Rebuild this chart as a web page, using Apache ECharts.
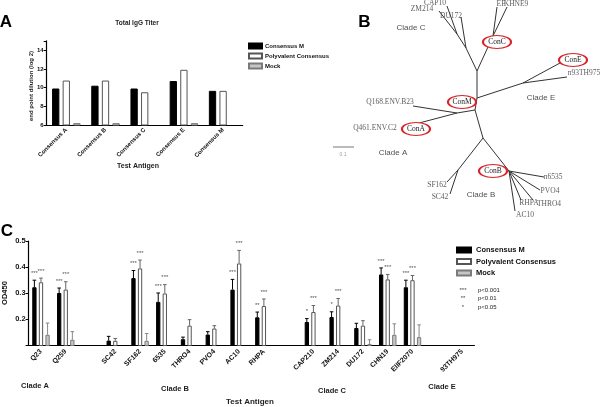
<!DOCTYPE html>
<html><head><meta charset="utf-8">
<script src="https://cdn.jsdelivr.net/npm/echarts@6/dist/echarts.min.js"></script>
<style>html,body{margin:0;padding:0;background:#fff}#c{width:600px;height:407px}</style>
</head><body><div id="c"></div>
<script>
// ---------- Panel A data ----------
const titerCats = ['Consensus A','Consensus B','Consensus C','Consensus E','Consensus M'];
const titerConsM = [9.9, 10.2, 9.9, 10.7, 9.65];
const titerPoly = [10.75, 10.75, 9.5, 11.9, 9.65];
const titerMock = [6.2, 6.2, null, 6.2, null];

// ---------- Panel B data (tree, picture units) ----------
const treeEdges = [
  [477,71,477,98],[477,98,475,110],[475,110,483,138],
  [477,71,466,48],[466,48,457,34],[457,34,447,6],[457,34,439,11],[466,48,461,17],
  [477,71,493,36],[493,36,497,7],[493,36,507,7],
  [477,98,523,83],[523,83,560,63],[523,83,567,77],
  [475,110,457,113],[457,113,413,106],[457,113,404,127],
  [483,138,458,170],[458,170,447,182],[458,170,450,194],
  [483,138,509,171],[509,171,544,177],[509,171,540,190],[509,171,533,200],[509,171,521,200],[509,171,515,211]
];
const treeLeaves = [
  [435,3,'CAP10'],[422,9,'ZM214'],[451,16,'DU172'],[501,4,'EF'],[516,4,'KHNE9'],
  [584,73,'n93TH975'],[390,102,'Q168.ENV.B23'],[375,128,'Q461.ENV.C2'],
  [437,185,'SF162'],[440,197,'SC42'],[553,177,'n6535'],[550,191,'PVO4'],
  [529,203,'RHPA'],[549,204,'THRO4'],[525,215,'AC10']
];
const treeConsensus = [[497,42,'ConC'],[573,60,'ConE'],[462,102,'ConM'],[416,129,'ConA'],[493,171,'ConB']];
const treeClades = [[411,28,'Clade C'],[541,98,'Clade E'],[393,153,'Clade A'],[481,195,'Clade B']];
const scaleBar = [[333,147,354,147]];
const scaleLabel = [[343,155,'0.1']];

// ---------- Panel C data ----------
const odCats = ['Q23','Q259','','SC42','SF162','6535','THRO4','PVO4','AC10','RHPA','','CAP210','ZM214','DU172','CHN19','EIIF2070','','93TH975'];
const odConsM = [0.323,0.301,null,0.119,0.358,0.267,0.124,0.142,0.314,0.208,null,0.190,0.209,0.167,0.372,0.323,null,null];
const odConsMErr = [0.027,0.019,null,0.016,0.029,0.034,0.008,0.011,0.039,0.020,null,0.013,0.020,0.018,0.025,0.027,null,null];
const odPoly = [0.342,0.314,null,0.118,0.395,0.299,0.176,0.165,0.414,0.251,null,0.228,0.253,0.176,0.353,0.350,null,null];
const odPolyErr = [0.016,0.030,null,0.009,0.032,0.034,0.023,0.011,0.050,0.027,null,0.025,0.027,0.019,0.019,0.018,null,null];
const odMock = [0.141,0.122,null,null,0.118,null,null,null,null,null,null,null,null,0.106,0.141,0.132,null,null];
const odMockErr = [0.045,0.031,null,null,0.028,null,null,null,null,null,null,null,null,0.016,0.042,0.047,null,null];
const starsConsM = ['***','***','','','***','***','','','***','**','','*','*','','***','***','',''];
const starsPoly = ['***','***','','','***','***','','','***','***','','***','***','','***','***','',''];
const cladeLabels = [[35,386,'Clade A'],[175,389,'Clade B'],[332,391,'Clade C'],[442,387,'Clade E']];
const pLegend = [['***','p<0.001'],['**','p<0.01'],['*','p<0.05']];

const SANS = 'Liberation Sans, Arial, sans-serif';
const SERIF = 'Liberation Serif, Times New Roman, serif';
const names = ['Consensus M','Polyvalent Consensus','Mock'];
const styles = [
  {color:'#000', borderColor:'#000', borderWidth:1},
  {color:'#fff', borderColor:'#555', borderWidth:1},
  {color:'#c6c6c6', borderColor:'#7a7a7a', borderWidth:1}
];
const errColors = ['#000','#666','#888'];

const chart = echarts.init(document.getElementById('c'), null, {renderer:'canvas'});

function txt(x, y, text, font, fill, align, rot) {
  return {type:'text', x:x, y:y, rotation: rot||0,
    style:{text:text, font:font, fill:fill||'#111', align:align||'center', verticalAlign:'middle',
      textAlign:align||'center', textVerticalAlign:'middle'}};
}

const graphics = [
  txt(6,22,'A','bold 17px '+SANS,'#000'),
  txt(364.5,22,'B','bold 17px '+SANS,'#000'),
  txt(7,231,'C','bold 17px '+SANS,'#000'),
  txt(137,23,'Total IgG Titer','bold 6.5px '+SANS,'#222'),
  txt(138,166,'Test Antigen','bold 7px '+SANS,'#222'),
  txt(31,86,'end point dilution (log 2)','bold 6px '+SANS,'#222','center',Math.PI/2),
  txt(5,293,'OD450','bold 7.5px '+SANS,'#111','center',Math.PI/2),
  txt(250,402,'Test Antigen','bold 8px '+SANS,'#222')
];
cladeLabels.forEach(c => graphics.push(txt(c[0],c[1],c[2],'bold 7.5px '+SANS,'#222')));
pLegend.forEach((p,i) => {
  graphics.push(txt(463,290+i*8.5,p[0],'6px '+SANS,'#444'));
  graphics.push(txt(478,290+i*8.5,p[1],'6px '+SANS,'#222','left'));
});

function errorSeries(k, means, errs, stars) {
  const data = means.map((m,i) => m==null ? [i, null, null] : [i, m, errs[i]]);
  return {
    type:'custom', xAxisIndex:2, yAxisIndex:2, z:5,
    encode:{x:0, y:1},
    data:data,
    renderItem:(params, api) => {
      const v = api.value(1);
      if (v == null || isNaN(v)) return null;
      const i = api.value(0);
      const off = (k-1)*6.6;
      const b = api.coord([i, v]);
      const t = api.coord([i, v + api.value(2)]);
      const x = b[0] + off;
      const ch = [
        {type:'line', shape:{x1:x,y1:b[1],x2:x,y2:t[1]}, style:{stroke:errColors[k], lineWidth:1}},
        {type:'line', shape:{x1:x-1.8,y1:t[1],x2:x+1.8,y2:t[1]}, style:{stroke:errColors[k], lineWidth:1}}
      ];
      const s = stars ? stars[params.dataIndex] : '';
      if (s) ch.push({type:'text', style:{text:s, x:x, y:t[1]-4, font:'6px '+SANS, fill:'#555',
        align:'center', verticalAlign:'bottom', textAlign:'center', textVerticalAlign:'bottom'}});
      return {type:'group', children:ch};
    }
  };
}

const option = {
  animation:false,
  backgroundColor:'#fff',
  textStyle:{fontFamily:SANS},
  graphic:graphics,
  legend:[
    {data:names, left:248, top:42.5, orient:'vertical', icon:'rect', itemWidth:13, itemHeight:5, itemGap:3,
     selectedMode:false, padding:0, textStyle:{fontSize:6, fontWeight:'bold', color:'#111', fontFamily:SANS, padding:[0,0,0,-2]}},
    {data:names, left:456, top:246, orient:'vertical', icon:'rect', itemWidth:14, itemHeight:5, itemGap:3.5,
     selectedMode:false, padding:0, textStyle:{fontSize:7.5, fontWeight:'bold', color:'#111', fontFamily:SANS}}
  ],
  grid:[
    {left:46.7, top:40.8, width:196, height:84.2},
    {left:280, top:0, width:320, height:220},
    {left:28.6, top:241, width:445.8, height:104.5}
  ],
  xAxis:[
    {type:'category', gridIndex:0, data:titerCats,
     axisLine:{lineStyle:{color:'#000', width:1.2}},
     axisTick:{alignWithLabel:true, length:3, lineStyle:{color:'#000'}},
     axisLabel:{rotate:45, fontSize:6, fontWeight:'bold', color:'#111', margin:4, interval:0}},
    {type:'value', gridIndex:1, min:280, max:600, show:false},
    {type:'category', gridIndex:2, data:odCats,
     axisLine:{lineStyle:{color:'#000', width:1.2}},
     axisTick:{alignWithLabel:true, length:3, lineStyle:{color:'#000'}, interval:0},
     axisLabel:{rotate:45, fontSize:7, fontWeight:'bold', color:'#111', margin:5, interval:0}}
  ],
  yAxis:[
    {type:'value', gridIndex:0, min:6, max:15, interval:2, showMaxLabel:false,
     axisLine:{show:true, lineStyle:{color:'#000', width:1.2}},
     axisTick:{show:true, length:3, lineStyle:{color:'#000'}},
     splitLine:{show:false},
     axisLabel:{fontSize:6, fontWeight:'bold', color:'#111', margin:3,
       formatter:v => v > 14.5 ? '' : String(v)}},
    {type:'value', gridIndex:1, min:0, max:220, inverse:true, show:false},
    {type:'value', gridIndex:2, min:0.1, max:0.5, interval:0.1,
     axisLine:{show:true, lineStyle:{color:'#000', width:1.2}},
     axisTick:{show:true, length:3, lineStyle:{color:'#000'}},
     splitLine:{show:false},
     axisLabel:{fontSize:7.5, fontWeight:'bold', color:'#111', margin:3,
       formatter:v => v < 0.15 ? '' : v.toFixed(1)}}
  ],
  series:[
    // Panel A
    {name:names[0], type:'bar', xAxisIndex:0, yAxisIndex:0, data:titerConsM, barWidth:7.3, barGap:'45%', itemStyle:styles[0]},
    {name:names[1], type:'bar', xAxisIndex:0, yAxisIndex:0, data:titerPoly, barWidth:7.3, barGap:'45%', itemStyle:styles[1]},
    {name:names[2], type:'bar', xAxisIndex:0, yAxisIndex:0, data:titerMock, barWidth:7.3, barGap:'45%', itemStyle:styles[2]},
    // Panel B tree
    {type:'custom', xAxisIndex:1, yAxisIndex:1, encode:{x:[0,2], y:[1,3]}, data:treeEdges, z:2,
     renderItem:(p, api) => {
       const a = api.coord([api.value(0), api.value(1)]);
       const b = api.coord([api.value(2), api.value(3)]);
       return {type:'line', shape:{x1:a[0],y1:a[1],x2:b[0],y2:b[1]}, style:{stroke:'#333', lineWidth:1}};
     }},
    {type:'custom', xAxisIndex:1, yAxisIndex:1, encode:{x:[0,2], y:[1,3]}, data:scaleBar, z:2,
     renderItem:(p, api) => {
       const a = api.coord([api.value(0), api.value(1)]);
       const b = api.coord([api.value(2), api.value(3)]);
       return {type:'line', shape:{x1:a[0],y1:a[1],x2:b[0],y2:b[1]}, style:{stroke:'#777', lineWidth:1}};
     }},
    {type:'scatter', xAxisIndex:1, yAxisIndex:1, data:treeLeaves, symbolSize:1, z:3,
     itemStyle:{color:'rgba(0,0,0,0)'},
     label:{show:true, position:'inside', formatter:p => p.value[2], fontFamily:SERIF, fontSize:7.5, color:'#333'}},
    {type:'scatter', xAxisIndex:1, yAxisIndex:1, data:scaleLabel, symbolSize:1, z:3,
     itemStyle:{color:'rgba(0,0,0,0)'},
     label:{show:true, position:'inside', formatter:p => p.value[2], fontFamily:SANS, fontSize:5, color:'#888'}},
    {type:'scatter', xAxisIndex:1, yAxisIndex:1, data:treeConsensus, symbol:'circle', symbolSize:[28,13], z:4,
     itemStyle:{color:'#fff', borderColor:'#d8242a', borderWidth:1.5, opacity:1},
     label:{show:true, position:'inside', formatter:p => p.value[2], fontFamily:SERIF, fontSize:7.5, color:'#222'}},
    {type:'scatter', xAxisIndex:1, yAxisIndex:1, data:treeClades, symbolSize:1, z:3,
     itemStyle:{color:'rgba(0,0,0,0)'},
     label:{show:true, position:'inside', formatter:p => p.value[2], fontFamily:SANS, fontSize:8, color:'#222'}},
    // Panel C
    {name:names[0], type:'bar', xAxisIndex:2, yAxisIndex:2, data:odConsM, barWidth:4.3, barGap:'53%', itemStyle:styles[0]},
    {name:names[1], type:'bar', xAxisIndex:2, yAxisIndex:2, data:odPoly, barWidth:4.3, barGap:'53%', itemStyle:styles[1]},
    {name:names[2], type:'bar', xAxisIndex:2, yAxisIndex:2, data:odMock, barWidth:4.3, barGap:'53%', itemStyle:styles[2]},
    errorSeries(0, odConsM, odConsMErr, starsConsM),
    errorSeries(1, odPoly, odPolyErr, starsPoly),
    errorSeries(2, odMock, odMockErr, null)
  ]
};
chart.setOption(option);
</script></body></html>
